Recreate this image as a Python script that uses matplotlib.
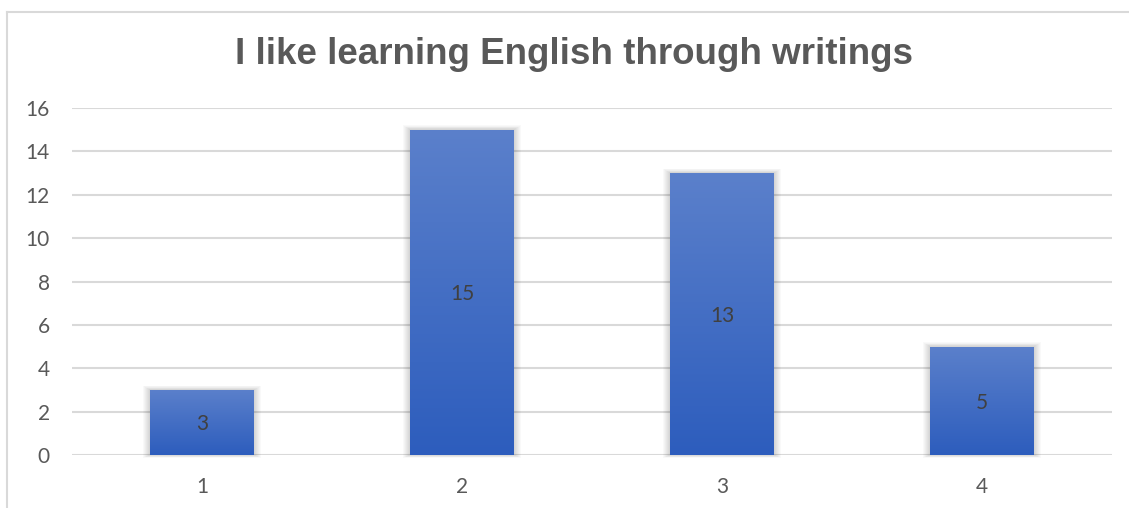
import numpy as np
import matplotlib
matplotlib.use("Agg")
import matplotlib.pyplot as plt
from matplotlib.patches import Rectangle
from matplotlib.lines import Line2D
from matplotlib.colors import LinearSegmentedColormap

categories = ["1", "2", "3", "4"]
values = [3, 15, 13, 5]
y_ticks = [0, 2, 4, 6, 8, 10, 12, 14, 16]
title = "I like learning English through writings"

W, H = 1129, 508
fig = plt.figure(figsize=(W / 100, H / 100), dpi=100)
fig.patch.set_facecolor("white")

# chart frame (top and left edges visible)
fig.add_artist(Line2D([7 / W, 1.0], [1 - 12 / H, 1 - 12 / H], color="#d9d9d9", lw=1.5))
fig.add_artist(Line2D([7 / W, 7 / W], [0, 1 - 12 / H], color="#d9d9d9", lw=1.5))

ax = fig.add_axes([72 / W, (H - 455) / H, (1112 - 72) / W, (455 - 108) / H])
for s in ax.spines.values():
    s.set_visible(False)
ax.set_yticks(y_ticks)
ax.set_xticks(range(len(categories)))
ax.set_xticklabels(categories)
ax.tick_params(length=0, labelsize=15, labelcolor="#595959")
ax.tick_params(axis="x", pad=16)
ax.tick_params(axis="y", pad=16)
for lab in ax.get_xticklabels() + ax.get_yticklabels():
    lab.set_fontfamily("Lato")
ax.yaxis.grid(True, color="#d9d9d9", lw=1.5)
ax.set_axisbelow(True)

# pixel sizes in data units
px_x = (len(categories)) / 1040.0
px_y = 16 / 347.0

cmap = LinearSegmentedColormap.from_list("bar", ["#2d5dbd", "#5b80cb"])
grad = np.linspace(0, 1, 256).reshape(-1, 1)
bw = 0.4
for i, v in enumerate(values):
    x0 = i - bw / 2
    # soft shadow around the bar
    for k in range(1, 8):
        ax.add_patch(Rectangle((x0 - k * px_x, -k * 0.4 * px_y),
                               bw + 2 * k * px_x, v + k * 0.6 * px_y + k * 0.4 * px_y,
                               facecolor="black", alpha=0.022, lw=0, zorder=2,
                               clip_on=False))
    rect = Rectangle((x0, 0), bw, v, facecolor="none", lw=0, zorder=3)
    ax.add_patch(rect)
    im = ax.imshow(grad, cmap=cmap, origin="lower", aspect="auto",
                   extent=(x0, x0 + bw, 0, v), zorder=3)
    im.set_clip_path(rect)
    ax.text(i, v / 2 - 2 * px_y, str(v), ha="center", va="center", fontsize=15,
            color="#404040", family="Lato", zorder=4)
ax.set_xlim(-0.5, len(categories) - 0.5)
ax.set_ylim(0, 16)

fig.text(574 / W, 1 - 54 / H, title, ha="center", va="center", fontsize=26.5,
         fontweight="bold", color="#595959", family="Liberation Sans")

fig.savefig("out.png", dpi=100)
